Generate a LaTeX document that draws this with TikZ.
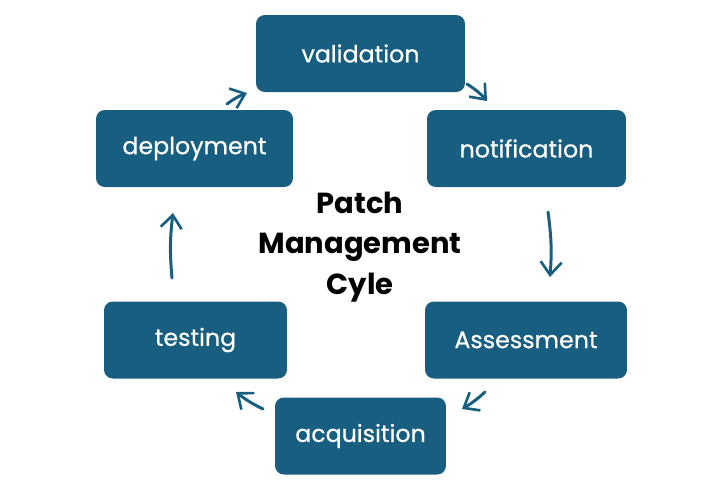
\documentclass[tikz,border=0pt]{standalone}
\usepackage{fontspec}
\setmainfont{Poppins}
\newfontfamily\phasefont[FakeBold=0.6]{Poppins}
\usepackage{tikz}
\usetikzlibrary{arrows.meta,calc,positioning}

\definecolor{patchblue}{RGB}{24,94,128}

\tikzset{
  phase/.style={rectangle,rounded corners=5pt,fill=patchblue,text=white,
    minimum height=1.54cm,inner sep=0pt,font=\phasefont\fontsize{13.5}{16}\selectfont},
  cyclearrow/.style={-{Straight Barb[length=2.6mm,width=4.2mm,line width=1.5pt]},
    patchblue,line width=1.7pt,line cap=round}
}

\begin{document}
\begin{tikzpicture}[x=0.02cm,y=-0.02cm]
  \useasboundingbox (0,0) rectangle (720,485);

  % the six phases
  \node[phase,minimum width=4.18cm] (val) at (360.5,53.5) {validation};
  \node[phase,minimum width=3.98cm] (noti) at (526.5,148.5) {notification};
  \node[phase,minimum width=4.04cm] (assess) at (526,340) {Assessment};
  \node[phase,minimum width=3.42cm] (acq) at (360.5,436) {acquisition};
  \node[phase,minimum width=3.66cm] (test) at (195.5,340) {testing};
  \node[phase,minimum width=3.94cm] (deploy) at (194.5,148.5) {deployment};

  % title in the middle
  \node[font=\fontsize{16.5}{23}\selectfont\bfseries,align=center] (title) at (360,247)
    {Patch\\Management\\Cyle};

  % free ends of the arrows
  \coordinate (a1) at (227,104); \coordinate (b1) at (247,93);
  \coordinate (a2) at (467,84);  \coordinate (b2) at (487,101);
  \coordinate (a3) at (548,212); \coordinate (b3) at (550,277);
  \coordinate (a4) at (485,392); \coordinate (b4) at (462,409);
  \coordinate (a5) at (263,409); \coordinate (b5) at (236,392);
  \coordinate (a6) at (172,278); \coordinate (b6) at (173,213);

  \draw[cyclearrow] (a1) to[bend left=8] (b1);
  \draw[cyclearrow] (a2) to[bend left=8] (b2);
  \draw[cyclearrow] (a3) to[bend left=6] (b3);
  \draw[cyclearrow] (a4) to[bend left=6] (b4);
  \draw[cyclearrow] (a5) to[bend left=6] (b5);
  \draw[cyclearrow] (a6) to[bend left=6] (b6);
\end{tikzpicture}
\end{document}
